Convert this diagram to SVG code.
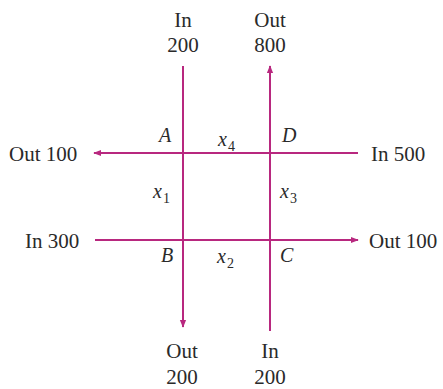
<svg xmlns="http://www.w3.org/2000/svg" width="443" height="389" viewBox="0 0 443 389">
<defs>
<style>
text{font-family:"Liberation Serif","Times New Roman",serif;font-size:21px;fill:#2a2a2a}
.c{text-anchor:middle}
.i{font-style:italic;font-size:20px}
.s{font-size:14px}
.ln{stroke:#b8287f;stroke-width:2;fill:none}
</style>
<marker id="ah" viewBox="0 0 10 10" refX="9" refY="5" markerWidth="4" markerHeight="4" orient="auto" markerUnits="strokeWidth">
<path d="M0,1 L10,5 L0,9 Z" fill="#b8287f"/>
</marker>
</defs>
<rect width="443" height="389" fill="#fff"/>
<g id="connectors">
<line class="ln" x1="183" y1="66" x2="183" y2="327" marker-end="url(#ah)"/>
<line class="ln" x1="270" y1="331" x2="270" y2="66" marker-end="url(#ah)"/>
<line class="ln" x1="358" y1="153" x2="94" y2="153" marker-end="url(#ah)"/>
<line class="ln" x1="95" y1="240" x2="358" y2="240" marker-end="url(#ah)"/>
</g>
<g id="ext-top-left"><text class="c" x="183" y="27">In</text><text class="c" x="183" y="52">200</text></g>
<g id="ext-top-right"><text class="c" x="270" y="27">Out</text><text class="c" x="270" y="52">800</text></g>
<g id="ext-left-top"><text x="9" y="161">Out 100</text></g>
<g id="ext-right-top"><text x="371" y="161">In 500</text></g>
<g id="ext-left-bottom"><text x="25" y="248">In 300</text></g>
<g id="ext-right-bottom"><text x="369" y="248">Out 100</text></g>
<g id="ext-bottom-left"><text class="c" x="182" y="358">Out</text><text class="c" x="182" y="384">200</text></g>
<g id="ext-bottom-right"><text class="c" x="270" y="358">In</text><text class="c" x="270" y="384">200</text></g>
<g id="node-A"><text class="i" x="159" y="142">A</text></g>
<g id="node-D"><text class="i" x="282" y="142">D</text></g>
<g id="node-B"><text class="i" x="161" y="262">B</text></g>
<g id="node-C"><text class="i" x="280" y="262">C</text></g>
<g id="label-x4"><text class="i" x="218" y="146">x</text><text class="s" x="228" y="151">4</text></g>
<g id="label-x1"><text class="i" x="153" y="198">x</text><text class="s" x="163" y="203">1</text></g>
<g id="label-x3"><text class="i" x="280" y="198">x</text><text class="s" x="290" y="203">3</text></g>
<g id="label-x2"><text class="i" x="217" y="263">x</text><text class="s" x="227" y="268">2</text></g>
</svg>
